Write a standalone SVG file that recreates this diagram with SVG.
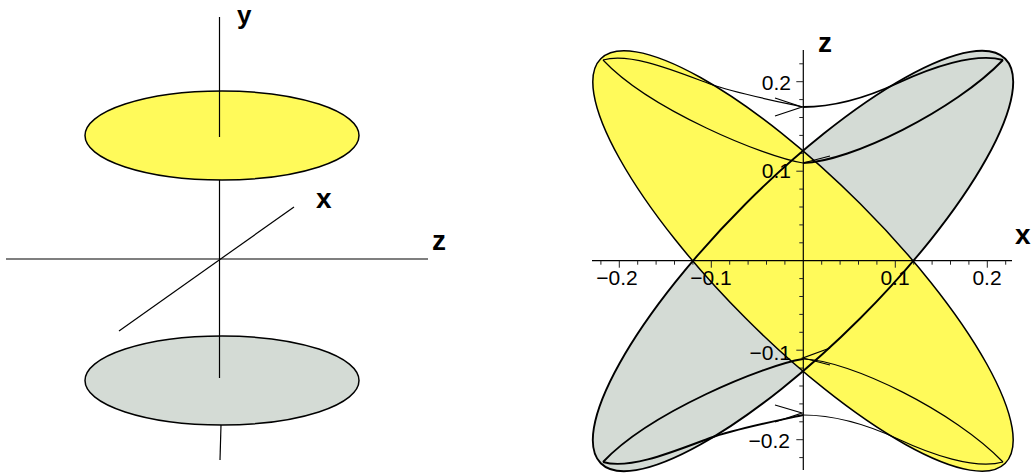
<svg xmlns="http://www.w3.org/2000/svg" width="1034" height="474" viewBox="0 0 1034 474">
<style>
.ax{stroke:#000;stroke-width:1.2;fill:none}
.lbl{font-family:"Liberation Sans",Arial,sans-serif;font-weight:bold;font-size:28px;fill:#000}
.num{font-family:"Liberation Sans",Arial,sans-serif;font-size:21px;fill:#000}
.yel{fill:#fffa5a}
.gry{fill:#d4dbd5}
.thin{stroke:#000;stroke-width:1.2;fill:none}
.thick{stroke:#000;stroke-width:1.9;fill:none}
.tk{stroke:#222;stroke-width:1;fill:none}
</style>
<rect width="1034" height="474" fill="#fff"/>
<g id="left-plot">
  <g id="disk-lower"><ellipse cx="222" cy="380.5" rx="137" ry="44.5" class="gry" stroke="#000" stroke-width="1.5"/></g>
  <g id="disk-upper"><ellipse cx="222" cy="135.5" rx="137" ry="44.5" class="yel" stroke="#000" stroke-width="1.5"/></g>
  <g id="left-axes">
    <line class="ax" x1="219.5" y1="17" x2="219.5" y2="137"/>
    <line class="ax" x1="219.5" y1="180" x2="219.5" y2="378"/>
    <line class="ax" x1="221" y1="425" x2="220" y2="460"/>
    <line class="ax" x1="6" y1="259" x2="428" y2="259"/>
    <line class="ax" x1="294" y1="207" x2="119" y2="331"/>
  </g>
  <text class="lbl" x="237" y="24" style="font-size:26px">y</text>
  <text class="lbl" x="316" y="208">x</text>
  <text class="lbl" x="432" y="250">z</text>
</g>
<g id="right-plot">
  <g id="fills">
    <ellipse cx="803" cy="261" rx="286" ry="81" transform="rotate(-45 803 261)" class="gry"/>
    <ellipse cx="803" cy="261" rx="286" ry="81" transform="rotate(45 803 261)" class="yel"/>
  </g>
  <g id="axes">
    <line class="ax" x1="803.3" y1="50" x2="803.3" y2="470"/>
    <line class="ax" x1="592" y1="260.7" x2="1012" y2="260.7"/>
    <path class="tk" d="M600.9 260.7v4M619.3 260.7v7M637.7 260.7v4M656.1 260.7v4M674.5 260.7v4M692.9 260.7v4M711.3 260.7v7M729.7 260.7v4M748.1 260.7v4M766.5 260.7v4M784.9 260.7v4M821.7 260.7v4M840.1 260.7v4M858.5 260.7v4M876.9 260.7v4M895.3 260.7v7M913.7 260.7v4M932.1 260.7v4M950.5 260.7v4M968.9 260.7v4M987.3 260.7v7M1005.7 260.7v4"/>
    <path class="tk" d="M803.3 63.8h-4M803.3 81.7h-7M803.3 99.6h-4M803.3 117.5h-4M803.3 135.4h-4M803.3 153.3h-4M803.3 171.2h-7M803.3 189.1h-4M803.3 207h-4M803.3 224.9h-4M803.3 242.8h-4M803.3 278.6h-4M803.3 296.5h-4M803.3 314.4h-4M803.3 332.3h-4M803.3 350.2h-7M803.3 368.1h-4M803.3 386h-4M803.3 403.9h-4M803.3 421.8h-4M803.3 439.7h-7M803.3 457.6h-4"/>
  </g>
  <g id="outlines">
    <ellipse cx="803" cy="261" rx="286" ry="81" transform="rotate(-45 803 261)" class="thick"/>
    <ellipse cx="803" cy="261" rx="286" ry="81" transform="rotate(45 803 261)" fill="none" stroke="#000" stroke-width="1.5"/>
  </g>
  <g id="rings">
    <path class="thin" d="M803 107C780 102 735 93 710 84C675 71 630 52 603 60"/>
    <path class="thin" d="M803 163C765 157 650 110 603 60"/>
    <path class="thick" d="M803 107C835 107 870 96 898 83C930 68 975 52 1003 60"/>
    <path class="thick" d="M803 163C850 162 955 110 1003 60"/>
    <path class="thick" d="M803 415C780 420 735 429 710 438C675 451 630 470 603 462"/>
    <path class="thick" d="M803 359C765 365 650 412 603 462"/>
    <path class="thin" d="M803 415C835 415 870 426 898 439C930 454 975 470 1003 462"/>
    <path class="thin" d="M803 359C850 360 955 412 1003 462"/>
    <path class="thin" d="M775 98L802 107L775 116M803 163L830 156M830 348L803 358L830 365M775 405L802 413L775 422"/>
  </g>
  <g id="tick-labels">
    <text class="num" x="617" y="285" text-anchor="middle">−0.2</text>
    <text class="num" x="711" y="285" text-anchor="middle">−0.1</text>
    <text class="num" x="895" y="285" text-anchor="middle">0.1</text>
    <text class="num" x="987" y="285" text-anchor="middle">0.2</text>
    <text class="num" x="791" y="90" text-anchor="end">0.2</text>
    <text class="num" x="791" y="178" text-anchor="end">0.1</text>
    <text class="num" x="791" y="360" text-anchor="end">−0.1</text>
    <text class="num" x="790" y="448" text-anchor="end">−0.2</text>
  </g>
  <text class="lbl" x="818" y="52">z</text>
  <text class="lbl" x="1015" y="244">x</text>
</g>
</svg>
